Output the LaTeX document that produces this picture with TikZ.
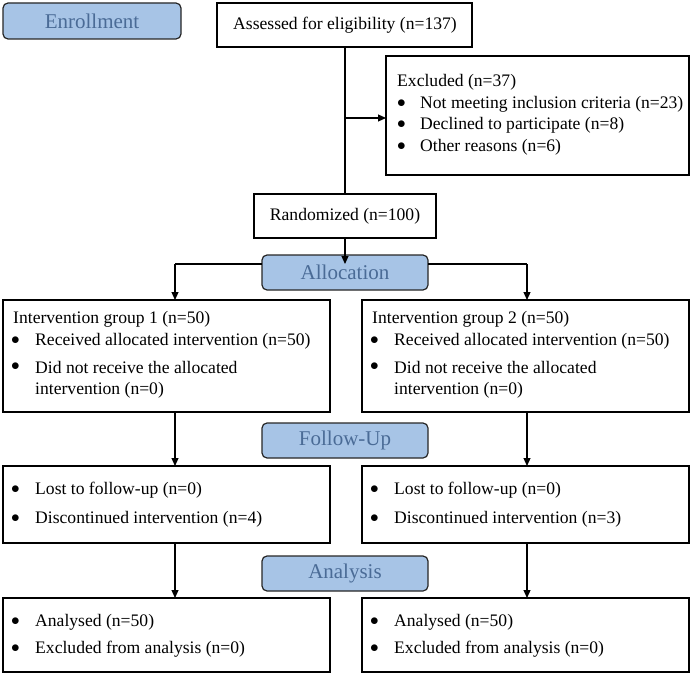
\documentclass[tikz,border=0pt]{standalone}
\usepackage{fontspec}
\setmainfont{Liberation Serif}
\usetikzlibrary{arrows.meta}
\definecolor{stf}{HTML}{A7C4E6}
\definecolor{stt}{HTML}{4A6B96}
\begin{document}
\begin{tikzpicture}[x=1pt,y=-1pt,
  box/.style={draw,line width=1.2pt},
  stage/.style={draw=black!85,line width=1.2pt,fill=stf,rounded corners=5pt},
  stl/.style={text=stt,font=\fontsize{21}{23}\selectfont},
  txt/.style={anchor=west,font=\fontsize{17.6}{20}\selectfont,inner sep=0pt},
  bl/.style={anchor=west,font=\fontsize{17.6}{20}\selectfont,inner sep=0pt},
  arr/.style={line width=1.2pt,-{Triangle[length=8pt,width=7pt]}},
  ln/.style={line width=1.2pt}]
\useasboundingbox (0,0) rectangle (694,674);
\newcommand{\bul}{$\bullet$}
% stages
\draw[stage] (3,3) rectangle (181,39); \node[stl] (en) at (92,21) {Enrollment};
\draw[stage] (262,255) rectangle (428,290); \node[stl] (al) at (345,272) {Allocation};
\draw[stage] (262,423) rectangle (428,458); \node[stl] (fu) at (345,440) {Follow-Up};
\draw[stage] (262,556) rectangle (428,591); \node[stl] (an) at (345,573) {Analysis};
% boxes
\draw[box] (217,3) rectangle (472,47); \node[txt,anchor=center] (as) at (345,25) {Assessed for eligibility (n=137)};
\coordinate (asb) at (345,47);
\draw[box] (386,56) rectangle (689,175);
\node[txt] (ex) at (397,82) {Excluded (n=37)};
\node[bl] at (397,104) {\bul}; \node[txt] at (420,104) {Not meeting inclusion criteria (n=23)};
\node[bl] at (397,125) {\bul}; \node[txt] at (420,125) {Declined to participate (n=8)};
\node[bl] at (397,147) {\bul}; \node[txt] at (420,147) {Other reasons (n=6)};
\coordinate (exl) at (386,118);
\draw[box] (254,194) rectangle (436,238); \node[txt,anchor=center] (ra) at (345,216) {Randomized (n=100)};
\coordinate (rat) at (345,194); \coordinate (rab) at (345,238);
\coordinate (mid) at (345,118);
\draw[ln] (asb) -- (rat);
\draw[arr] (mid) -- (exl);
\coordinate (hj) at (345,264);
\coordinate (hl) at (175,264); \coordinate (hr) at (527,264);
\draw[arr] (rab) -- (hj);
\draw[ln] (hl) -- (262,264); \draw[ln] (428,264) -- (hr);
\coordinate (i1t) at (175,300); \coordinate (i2t) at (527,300);
\draw[arr] (hl) -- (i1t); \draw[arr] (hr) -- (i2t);
% intervention
\foreach \x/\n in {3/1,362/2}{
  \draw[box] (\x,300) rectangle (\x+327,412);
  \node[txt] at (\x+10,319) {Intervention group \n\ (n=50)};
  \node[bl] at (\x+8,341) {\bul}; \node[txt] at (\x+32,341) {Received allocated intervention (n=50)};
  \node[bl] at (\x+8,367) {\bul}; \node[txt] at (\x+32,367) {Did not receive the allocated};
  \node[txt] at (\x+32,390) {intervention (n=0)};
}
\coordinate (a1) at (175,412); \coordinate (b1) at (175,466);
\coordinate (a2) at (527,412); \coordinate (b2) at (527,466);
\draw[arr] (a1) -- (b1); \draw[arr] (a2) -- (b2);
\foreach \x/\n in {3/4,362/3}{
  \draw[box] (\x,466) rectangle (\x+327,543);
  \node[bl] at (\x+8,490) {\bul}; \node[txt] at (\x+32,490) {Lost to follow-up (n=0)};
  \node[bl] at (\x+8,519) {\bul}; \node[txt] at (\x+32,519) {Discontinued intervention (n=\n)};
}
\coordinate (c1) at (175,543); \coordinate (d1) at (175,598);
\coordinate (c2) at (527,543); \coordinate (d2) at (527,598);
\draw[arr] (c1) -- (d1); \draw[arr] (c2) -- (d2);
\foreach \x in {3,362}{
  \draw[box] (\x,598) rectangle (\x+327,672);
  \node[bl] at (\x+8,622) {\bul}; \node[txt] at (\x+32,622) {Analysed (n=50)};
  \node[bl] at (\x+8,649) {\bul}; \node[txt] at (\x+32,649) {Excluded from analysis (n=0)};
}
\end{tikzpicture}
\end{document}
